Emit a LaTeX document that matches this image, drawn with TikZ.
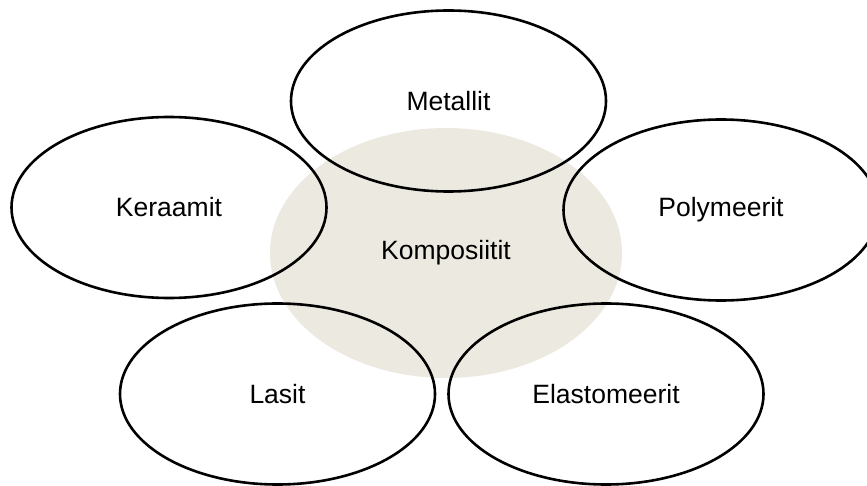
\documentclass[tikz,border=0pt]{standalone}
\usepackage{fontspec}
\setmainfont{Liberation Sans}
\usetikzlibrary{shapes.geometric}
\definecolor{sand}{RGB}{236,234,224}
\tikzset{
  family/.style={ellipse, draw=black, line width=2.6pt, inner sep=0pt,
    minimum width=315pt, minimum height=181pt,
    font=\fontsize{26.5}{30}\selectfont},
  core/.style={ellipse, fill=sand, inner sep=0pt,
    minimum width=352pt, minimum height=250pt},
  label/.style={font=\fontsize{26.5}{30}\selectfont, inner sep=0pt}
}
\begin{document}
\begin{tikzpicture}[x=1pt, y=-1pt]
  \useasboundingbox[fill=white] (0,0) rectangle (867,486);
  % shared centre region
  \node[core] (core) at (446,253) {};
  % material families around it
  \node[family] (metallit) at (448.5,101) {Metallit};
  \node[family] (keraamit) at (169,207.5) {Keraamit};
  \node[family] (polymeerit) at (721,210) {Polymeerit};
  \node[family] (lasit) at (277.5,394) {Lasit};
  \node[family] (elastomeerit) at (606,394) {Elastomeerit};
  % centre label
  \node[label] (komposiitit) at (core.center) {Komposiitit};
\end{tikzpicture}
\end{document}
